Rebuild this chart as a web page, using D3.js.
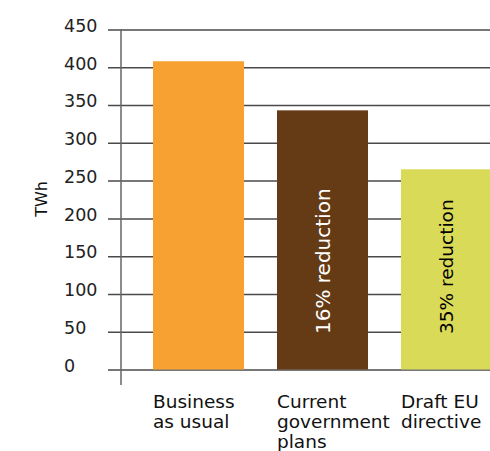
<!DOCTYPE html>
<html>
<head>
<meta charset="utf-8">
<script src="https://cdn.jsdelivr.net/npm/d3@7"></script>
<style>
  body { margin: 0; background: #fff; }
  svg text { font-family: "DejaVu Sans", sans-serif; }
</style>
</head>
<body>
<div id="chart"></div>
<script>
var categories = ['Business as usual', 'Current government plans', 'Draft EU directive'];
var categoryLines = [['Business', 'as usual'], ['Current', 'government', 'plans'], ['Draft EU', 'directive']];
var values = [408, 343, 265];
var barLabels = ['', '16% reduction', '35% reduction'];
var colors = ['#F7A133', '#653B16', '#D9DA57'];
var labelColors = ['#000', '#fff', '#000'];
var labelSizes = [20, 20, 18.5];
var yTicks = [0, 50, 100, 150, 200, 250, 300, 350, 400, 450];

var width = 490, height = 451;

var svg = d3.select('#chart').append('svg')
    .attr('width', width)
    .attr('height', height);

var y = d3.scaleLinear()
    .domain([0, 450])
    .range([369.5, 29.5]);

var x = d3.scaleBand()
    .domain(categories)
    .range([153, 492])
    .paddingInner(0.266)
    .paddingOuter(0);

// gridlines + tick labels
var gridLeft = 108;
var yAxis = d3.axisLeft(y)
    .tickValues(yTicks)
    .tickSize(-(width - gridLeft))
    .tickFormat(d3.format('d'));

var gy = svg.append('g')
    .attr('transform', 'translate(' + gridLeft + ',0)')
    .call(yAxis);

gy.select('.domain').remove();
gy.selectAll('.tick line')
    .attr('stroke', '#4a4a4a')
    .attr('stroke-width', 1.5);
gy.selectAll('.tick text')
    .attr('x', 64 - gridLeft)
    .attr('dy', '0.1em')
    .attr('text-anchor', 'start')
    .attr('font-size', '17.5px')
    .attr('fill', '#222');

// vertical axis line
svg.append('line')
    .attr('x1', 121).attr('x2', 121)
    .attr('y1', y(450)).attr('y2', 385)
    .attr('stroke', '#666')
    .attr('stroke-width', 1.5);

// bars
svg.selectAll('.bar')
    .data(categories)
    .enter()
    .append('rect')
    .attr('class', 'bar')
    .attr('x', function(d) { return x(d); })
    .attr('width', x.bandwidth())
    .attr('y', function(d, i) { return y(values[i]); })
    .attr('height', function(d, i) { return y(0) - y(values[i]); })
    .style('fill', function(d, i) { return colors[i]; });

// rotated labels inside bars
svg.selectAll('.bar-label')
    .data(categories)
    .enter()
    .append('text')
    .attr('class', 'bar-label')
    .attr('transform', function(d) {
        return 'translate(' + (x(d) + x.bandwidth() / 2 + 7) + ',' + 334 + ') rotate(-90)';
    })
    .attr('text-anchor', 'start')
    .attr('font-size', function(d, i) { return labelSizes[i] + 'px'; })
    .attr('fill', function(d, i) { return labelColors[i]; })
    .text(function(d, i) { return barLabels[i]; });

// category labels
var cat = svg.selectAll('.cat-label')
    .data(categories)
    .enter()
    .append('text')
    .attr('class', 'cat-label')
    .attr('x', function(d) { return x(d); })
    .attr('y', 408)
    .attr('font-size', '18.5px')
    .attr('fill', '#111');

cat.selectAll('tspan')
    .data(function(d, i) { return categoryLines[i]; })
    .enter()
    .append('tspan')
    .attr('x', function() { return x(d3.select(this.parentNode).datum()); })
    .attr('dy', function(d, j) { return j === 0 ? 0 : 20; })
    .text(function(d) { return d; });

// y label
svg.append('text')
    .attr('transform', 'translate(47,199) rotate(-90)')
    .attr('text-anchor', 'middle')
    .attr('font-size', '16px')
    .attr('fill', '#111')
    .text('TWh');
</script>
</body>
</html>
